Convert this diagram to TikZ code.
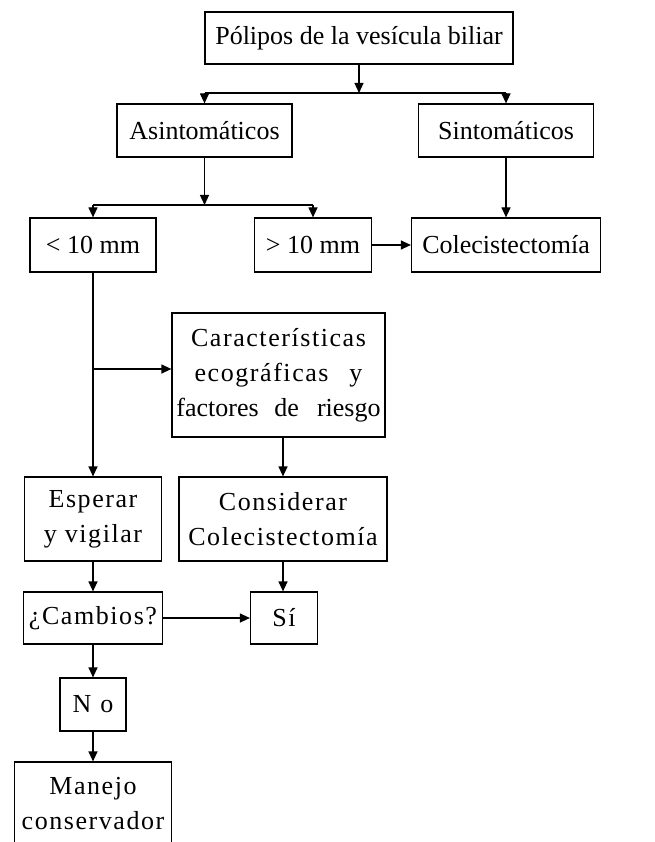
\documentclass[tikz,border=0pt]{standalone}
\usepackage{fontspec}
\setmainfont{Liberation Serif}
\newfontfamily\spacedfont[LetterSpace=6]{Liberation Serif}
\usetikzlibrary{arrows.meta}
\tikzset{
  sp/.style={font=\spacedfont\fontsize{26}{35}\selectfont},
}
\begin{document}
\begin{tikzpicture}[x=1pt,y=-1pt,line width=1.2pt,>={Triangle[length=10pt,width=9pt]}]
      \useasboundingbox (0,0) rectangle (654,842);
      \begin{scope}[every node/.style={rectangle,draw,line width=1.2pt,align=center,inner sep=0pt,font=\fontsize{26}{35}\selectfont}]
        \node[minimum width=308pt,minimum height=52pt] (polipos) at (359,38) {Pólipos de la vesícula biliar};
        \node[minimum width=175pt,minimum height=53pt] (asin) at (204.5,130.5) {Asintomáticos};
        \node[minimum width=175pt,minimum height=53pt] (sint) at (506,130.5) {Sintomáticos};
        \node[minimum width=126pt,minimum height=54pt] (menor) at (93,245) {< 10 mm};
        \node[minimum width=117pt,minimum height=54pt] (mayor) at (313,245) {> 10 mm};
        \node[minimum width=189pt,minimum height=54pt] (cole) at (506,245) {Colecistectomía};
        \node[sp,minimum width=213pt,minimum height=124pt] (carac) at (278.5,375) {Características\\ecográficas\hspace{0.8em}y\\{\normalfont\fontsize{26}{35}\selectfont factores\hspace{0.6em}de\hspace{0.7em}riesgo}};
        \node[sp,minimum width=137pt,minimum height=84pt] (esperar) at (93,519) {Esperar\\y vigilar};
        \node[sp,minimum width=208pt,minimum height=84pt] (consid) at (283,519) {Considerar\\Colecistectomía};
        \node[sp,minimum width=139pt,minimum height=52pt] (cambios) at (93,618) {¿Cambios?};
        \node[sp,minimum width=67pt,minimum height=52pt] (si) at (284,618) {Sí};
        \node[sp,minimum width=66pt,minimum height=53pt] (no) at (93,704.5) {N\hspace{0.35em}o};
        \node[sp,minimum width=157pt,minimum height=84pt] (manejo) at (93,804) {Manejo\\conservador};
      \end{scope}
      \coordinate (j1) at (359,93);
      \coordinate (j2) at (204.5,205);
      \coordinate (j3) at (93,369);
      \begin{scope}[every edge/.style={draw,->}]
        \path (polipos.south) edge (j1);
        \path (asin.north |- j1) edge (asin.north);
        \path (sint.north |- j1) edge (sint.north);
        \draw (asin.north |- j1) -- (sint.north |- j1);
        \path (asin.south) edge (j2);
        \path (menor.north |- j2) edge (menor.north);
        \path (mayor.north |- j2) edge (mayor.north);
        \draw (menor.north |- j2) -- (mayor.north |- j2);
        \path (mayor) edge (cole);
        \path (sint) edge (cole);
        \path (menor) edge (esperar);
        \path (j3) edge (j3 -| carac.west);
        \path (consid.north |- carac.south) edge (consid.north);
        \path (esperar) edge (cambios);
        \path (consid.south) edge (consid.south |- si.north);
        \path (cambios) edge (si);
        \path (cambios) edge (no);
        \path (no) edge (manejo);
      \end{scope}
    \end{tikzpicture}
\end{document}
